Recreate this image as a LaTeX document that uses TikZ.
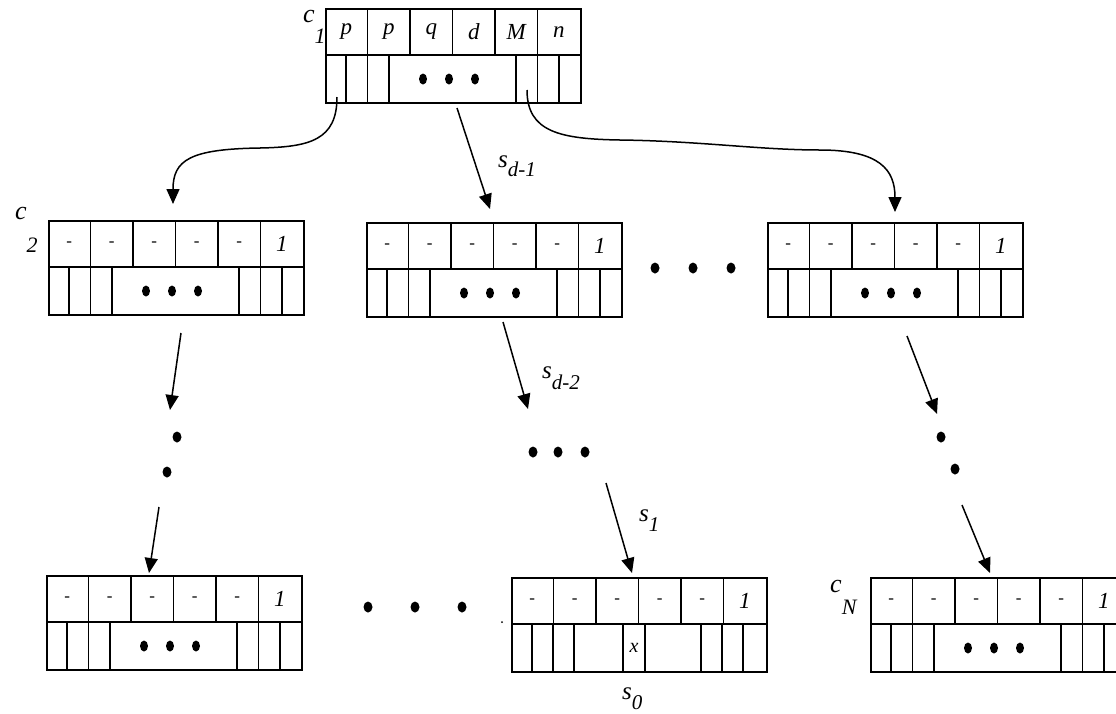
\documentclass[tikz,border=0pt]{standalone}
\usepackage{fontspec}
\setmainfont{Liberation Serif}
\usetikzlibrary{arrows.meta,calc}
\tikzset{
 boxline/.style={line width=1.4pt},
 outerbox/.style={draw, line width=1.8pt, minimum width=255pt, minimum height=94pt, inner sep=0pt, anchor=north west},
 celltxt/.style={font=\fontsize{23}{23}\selectfont\itshape, inner sep=0pt},
 arr/.style={line width=1.5pt, -{Triangle[length=15pt,width=13pt]}},
 lab/.style={font=\fontsize{26}{26}\selectfont\itshape, inner sep=0pt, anchor=base west},
 slab/.style={font=\fontsize{25}{25}\selectfont\itshape, inner sep=0pt, anchor=base west},
 dotmark/.style={fill=black},
}
\newcommand\dsh{{\fontsize{17}{17}\selectfont -}}
\newcommand\databox[4]{%
 \node[outerbox] (#1) at (#2,#3) {};
 \begin{scope}[shift={(#2,#3)}]
  \draw[boxline] (0,47) -- (255,47);
  \foreach \i in {1,...,5} \draw[boxline] (\i*42.5,0) -- (\i*42.5,47);
  \foreach \t [count=\k] in {#4} \node[celltxt] at (\k*42.5-21.25,24) {\t};
 \end{scope}}
\newcommand\stdbottom[2]{%
 \begin{scope}[shift={(#1,#2)}]
  \foreach \d in {21,42.5,64,191,212.5,234} \draw[boxline] (\d,47) -- (\d,94);
  \foreach \d in {98,124,150} \fill[dotmark] (\d,71) ellipse [x radius=4pt, y radius=5.5pt];
 \end{scope}}
\begin{document}
\begin{tikzpicture}[x=1pt,y=-1pt]
\useasboundingbox (0,0) rectangle (1116,713);
\clip (0,0) rectangle (1116,713);
% boxes
\databox{top}{325}{8}{p,p,q,d,M,n}
\stdbottom{325}{8}
\databox{ctwo}{48}{220}{\dsh,\dsh,\dsh,\dsh,\dsh,1}
\stdbottom{48}{220}
\databox{mid}{366}{222}{\dsh,\dsh,\dsh,\dsh,\dsh,1}
\stdbottom{366}{222}
\databox{rgt}{767}{222}{\dsh,\dsh,\dsh,\dsh,\dsh,1}
\stdbottom{767}{222}
\databox{bl}{46}{575}{\dsh,\dsh,\dsh,\dsh,\dsh,1}
\stdbottom{46}{575}
\databox{bm}{511}{577}{\dsh,\dsh,\dsh,\dsh,\dsh,1}
\begin{scope}[shift={(511,577)}]
 \foreach \d in {21,42,63,112,134,190,211,232} \draw[boxline] (\d,47) -- (\d,94);
 \node[celltxt,font=\fontsize{20}{20}\selectfont\itshape] (xcell) at (123,71) {x};
\end{scope}
\databox{cn}{870}{577}{\dsh,\dsh,\dsh,\dsh,\dsh,1}
\stdbottom{870}{577}
% labels
\node[lab] (lc1) at (303,22) {c\raisebox{-21pt}{\fontsize{22}{22}\selectfont 1}};
\node[lab] (lc2) at (15,219) {c\raisebox{-33pt}{\fontsize{22}{22}\selectfont 2}};
\node[lab] (lcn) at (830,592) {c\raisebox{-22pt}{\fontsize{22}{22}\selectfont N}};
\node[slab] (ls1) at (498,167) {s\raisebox{-9pt}{\fontsize{21}{21}\selectfont d-1}};
\node[slab] (ls2) at (542,378) {s\raisebox{-11pt}{\fontsize{21}{21}\selectfont d-2}};
\node[slab] (ls3) at (639,521) {s\raisebox{-10pt}{\fontsize{21}{21}\selectfont 1}};
\node[slab] (ls0) at (622,699) {s\raisebox{-10pt}{\fontsize{21}{21}\selectfont 0}};
% connector coordinates
\coordinate (p1) at (337,97);
\coordinate (t1) at (173,204);
\coordinate (p2) at (457,108);
\coordinate (t2) at (490,209);
\coordinate (p3) at (527,90);
\coordinate (t3) at (895,212);
\coordinate (p4) at (181,333);
\coordinate (t4) at (170,410);
\coordinate (p5) at (159,507);
\coordinate (t5) at (149,573);
\coordinate (p6) at (503,322);
\coordinate (t6) at (528,409);
\coordinate (p7) at (606,483);
\coordinate (t7) at (632,573);
\coordinate (p8) at (907,336);
\coordinate (t8) at (937,414);
\coordinate (p9) at (962,505);
\coordinate (t9) at (990,573);
% connectors
\draw[arr] (p1) .. controls (337,140) and (310,147) .. (260,148) .. controls (190,149) and (173,160) .. (t1);
\draw[arr] (p2) -- (t2);
\draw[arr] (p3) .. controls (527,132) and (560,139) .. (620,140) .. controls (700,141) and (760,150) .. (820,150) .. controls (880,150) and (895,170) .. (t3);
\draw[arr] (p4) -- (t4);
\draw[arr] (p5) -- (t5);
\draw[arr] (p6) -- (t6);
\draw[arr] (p7) -- (t7);
\draw[arr] (p8) -- (t8);
\draw[arr] (p9) -- (t9);
% ellipsis dots
\foreach \x/\y in {177/437,167/472, 533/452,558/452,585/452, 941/437,955/469, 655/268,693/268,731/268, 368/607,415/607,462/607}
  \fill[dotmark] (\x,\y) ellipse [x radius=4.5pt, y radius=5.5pt];
\fill[dotmark] (502,622) circle (1pt);
\end{tikzpicture}
\end{document}
